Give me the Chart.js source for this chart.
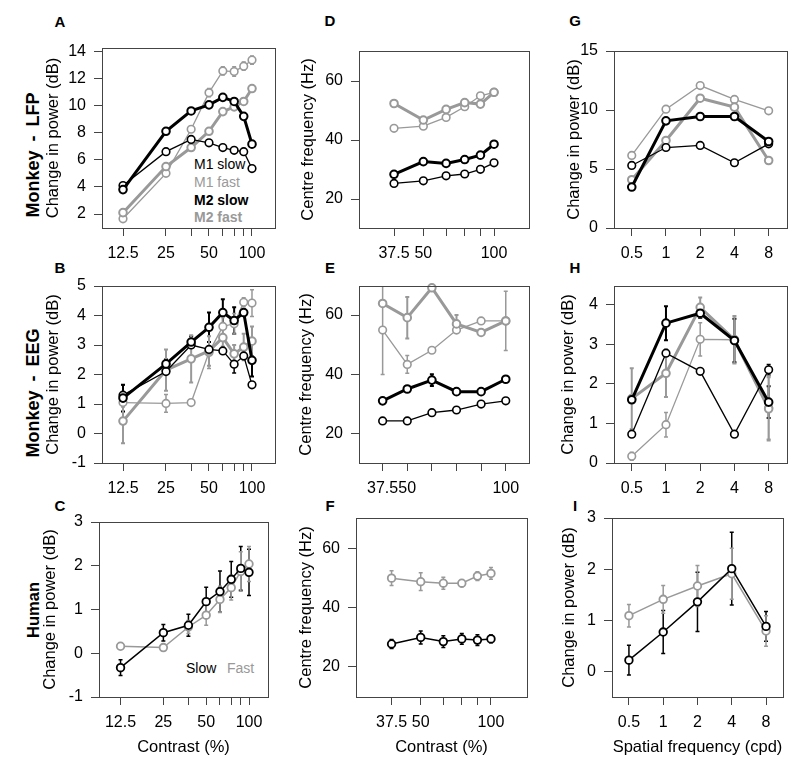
<!DOCTYPE html>
<html>
<head>
<meta charset="utf-8">
<script src="https://cdn.jsdelivr.net/npm/chart.js@4.4.1/dist/chart.umd.min.js"></script>
<style>
  body { margin: 0; background: #fff; width: 800px; height: 769px; position: relative; overflow: hidden;
         font-family: "Liberation Sans", Arial, sans-serif; color: #000; }
  canvas { position: absolute; }
  .letter { position: absolute; font-weight: bold; font-size: 15px; transform: translate(-50%, -50%); }
  .row { position: absolute; font-weight: bold; font-size: 18px; white-space: nowrap; word-spacing: 4px;
         transform: translate(-50%, -50%) rotate(-90deg); }
  .leg { position: absolute; font-size: 14px; line-height: 1; white-space: nowrap; transform: translateY(-50%); }
</style>
</head>
<body>
<div class="letter" style="left:60px;top:21px">A</div>
<div class="letter" style="left:60px;top:267px">B</div>
<div class="letter" style="left:60px;top:505px">C</div>
<div class="letter" style="left:330px;top:20px">D</div>
<div class="letter" style="left:330px;top:267px">E</div>
<div class="letter" style="left:330px;top:505px">F</div>
<div class="letter" style="left:575px;top:20px">G</div>
<div class="letter" style="left:575px;top:267px">H</div>
<div class="letter" style="left:575px;top:505px">I</div>

<div class="row" style="left:33px;top:155px">Monkey - LFP</div>
<div class="row" style="left:33px;top:393px">Monkey - EEG</div>
<div class="row" style="left:33px;top:610px;font-size:16.5px">Human</div>

<div class="leg" style="left:194px;top:164px;color:#000">M1 slow</div>
<div class="leg" style="left:194px;top:182px;color:#999">M1 fast</div>
<div class="leg" style="left:194px;top:200px;color:#000;font-weight:bold">M2 slow</div>
<div class="leg" style="left:194px;top:217px;color:#999;font-weight:bold">M2 fast</div>
<div class="leg" style="left:186px;top:668px;color:#000">Slow</div>
<div class="leg" style="left:227px;top:668px;color:#999">Fast</div>

<script>
// Valores del eje x
const contrast = [12.5, 25, 37.5, 50, 62.5, 75, 87.5, 100];
const contrastHigh = [37.5, 50, 62.5, 75, 87.5, 100];
const spatialFreq = [0.5, 1, 2, 4, 8];

// Etiquetas de ticks
const contrastLabels = ['12.5', '25', '', '50', '', '', '', '100'];
const contrastHighLabels = ['37.5', '50', '', '', '', '100'];
const sfLabels = ['0.5', '1', '2', '4', '8'];

const ticksA = [2, 4, 6, 8, 10, 12, 14];
const ticksB = [-1, 0, 1, 2, 3, 4, 5];
const ticksC = [-1, 0, 1, 2, 3];
const ticksFreq = [20, 40, 60];
const ticksG = [0, 5, 10, 15];
const ticksH = [0, 1, 2, 3, 4];
const ticksI = [0, 1, 2, 3];

// A - Monkey LFP, potencia vs contraste
const aM1Slow = [4.1, 6.6, 7.5, 7.25, 6.9, 6.7, 6.6, 5.35];
const aM1Fast = [1.65, 5.0, 8.25, 10.95, 12.55, 12.5, 12.9, 13.35];
const aM2Slow = [3.8, 8.1, 9.6, 10.05, 10.6, 10.3, 9.2, 7.15];
const aM2Fast = [2.1, 5.5, 6.9, 8.1, 9.55, 9.9, 10.3, 11.25];
const aM1FastErr = [null, null, null, 0.3, 0.3, 0.35, 0.3, 0.3];
const aM2FastErr = [null, null, null, null, null, null, 0.2, 0.2];

// B - Monkey EEG, potencia vs contraste
const bM1Slow = [1.3, 2.1, 3.0, 2.85, 2.8, 2.35, 2.63, 1.65];
const bM1Fast = [1.05, 1.02, 1.05, 2.75, 3.63, 3.72, 4.45, 4.42];
const bM2Slow = [1.2, 2.36, 3.1, 3.6, 4.1, 3.83, 4.1, 2.48];
const bM2Fast = [0.42, 2.15, 2.53, 2.8, 3.25, 2.7, 2.93, 3.13];
const bM1SlowErr = [0.35, null, null, null, null, 0.3, null, null];
const bM1FastErr = [0.15, 0.3, null, 0.55, 0.3, 0.35, 0.15, 0.45];
const bM2SlowErr = [0.45, 0.15, 0.2, 0.5, 0.45, 0.45, null, 0.55];
const bM2FastErr = [0.75, 0.7, 0.8, 0.5, 0.3, 0.3, 0.45, 0.5];

// C - Human, potencia vs contraste
const cSlow = [-0.33, 0.47, 0.64, 1.18, 1.41, 1.69, 1.94, 1.85];
const cFast = [0.16, 0.13, 0.6, 0.87, 1.23, 1.5, 1.87, 2.04];
const cSlowErr = [0.18, 0.19, 0.25, 0.33, 0.47, 0.41, 0.5, 0.53];
const cFastErr = [null, null, 0.15, 0.23, 0.3, 0.28, 0.45, 0.4];

// D - Monkey LFP, frecuencia central
const dM1Slow = [25.3, 26.2, 27.9, 28.5, 30.1, 32.3];
const dM1Fast = [44, 44.7, 47.7, 51.3, 55, 56.2];
const dM2Slow = [28.4, 32.7, 32.1, 33.4, 34.9, 38.6];
const dM2Fast = [52.4, 46.8, 50.4, 52.7, 52.2, 56.2];

// E - Monkey EEG, frecuencia central
const eM1Slow = [24.2, 24.2, 27, 27.9, 29.9, 31];
const eM1Fast = [54.9, 43.3, 48.1, 54.9, 58, 58];
const eM2Slow = [31, 35, 38, 34.1, 34.1, 38.3];
const eM2Fast = [63.9, 59.1, 69.2, 57, 54.1, 58];
const eM1FastErr = [15, 3, null, null, null, 10];
const eM2SlowErr = [null, null, 2, null, null, null];
const eM2FastErr = [null, 7, null, 3, null, null];

// F - Human, frecuencia central
const fSlow = [27.7, 29.9, 28.5, 29.4, 29.0, 29.4];
const fFast = [49.9, 48.7, 48.2, 48.2, 50.6, 51.5];
const fSlowErr = [1.5, 2.2, 2, 1.8, 1.8, 1.3];
const fFastErr = [2.5, 3, 2, 1.2, 1.5, 2];

// G - Monkey LFP, frecuencia espacial
const gM1Slow = [5.3, 6.82, 7.0, 5.53, 7.13];
const gM1Fast = [6.15, 10.07, 12.07, 10.9, 9.93];
const gM2Slow = [3.47, 9.08, 9.45, 9.45, 7.33];
const gM2Fast = [4.09, 7.42, 11.0, 10.24, 5.72];

// H - Monkey EEG, frecuencia espacial
const hM1Slow = [0.73, 2.78, 2.32, 0.73, 2.36];
const hM1Fast = [0.17, 0.97, 3.13, 3.12, 1.4];
const hM2Slow = [1.6, 3.54, 3.79, 3.1, 1.54];
const hM2Fast = [1.63, 2.27, 3.94, 3.12, 1.37];
const hM1SlowErr = [null, null, null, null, 0.13];
const hM1FastErr = [0.1, 0.31, 0.42, null, 0.8];
const hM2SlowErr = [null, 0.43, 0.12, 0.55, 0.4];
const hM2FastErr = [0.77, 0.6, 0.25, 0.6, 0.8];

// I - Human, frecuencia espacial
const iSlow = [0.22, 0.77, 1.36, 2.01, 0.88];
const iFast = [1.09, 1.41, 1.67, 1.91, 0.79];
const iSlowErr = [0.29, 0.42, 0.58, 0.71, 0.29];
const iFastErr = [0.22, 0.27, 0.4, 0.5, 0.3];

// Estilos
const AXIS = '#444';
const GRAY = '#999';
const FONT = { family: '"Liberation Sans", Arial, sans-serif', size: 16 };
const TITLE_FONT = { family: '"Liberation Sans", Arial, sans-serif', size: 16.5 };
const thinBlack = { color: '#000', w: 1.3, pw: 1.6 };
const thickBlack = { color: '#000', w: 3, pw: 2 };
const thinGray = { color: GRAY, w: 1.3, pw: 1.6 };
const thickGray = { color: GRAY, w: 3, pw: 2 };
const humanBlack = { color: '#000', w: 1.5, pw: 1.8 };
const humanGray = { color: GRAY, w: 1.5, pw: 1.8 };

// Marco alrededor del área del gráfico
const frame = {
    id: 'frame',
    afterDraw(chart) {
        const { ctx, chartArea: a } = chart;
        ctx.save();
        ctx.strokeStyle = AXIS;
        ctx.lineWidth = 1;
        ctx.strokeRect(Math.round(a.left) + 0.5, Math.round(a.top) + 0.5,
                       Math.round(a.width), Math.round(a.height));
        ctx.restore();
    }
};

// Barras de error verticales
const errorBars = {
    id: 'errorBars',
    beforeDatasetsDraw(chart) {
        const { ctx, chartArea: a, scales: { x, y } } = chart;
        ctx.save();
        ctx.beginPath();
        ctx.rect(a.left, a.top, a.width, a.height);
        ctx.clip();
        chart.data.datasets.forEach(ds => {
            if (!ds.err) return;
            ctx.strokeStyle = ds.borderColor;
            ctx.lineWidth = ds.borderWidth > 2 ? 2 : 1.5;
            ds.data.forEach((p, i) => {
                const e = ds.err[i];
                if (e == null) return;
                const px = x.getPixelForValue(p.x);
                const top = y.getPixelForValue(p.y + e);
                const bot = y.getPixelForValue(p.y - e);
                ctx.beginPath();
                ctx.moveTo(px, top); ctx.lineTo(px, bot);
                ctx.moveTo(px - 2, top); ctx.lineTo(px + 2, top);
                ctx.moveTo(px - 2, bot); ctx.lineTo(px + 2, bot);
                ctx.stroke();
            });
        });
        ctx.restore();
    }
};

function makePanel(cfg) {
    const [L, T, R, B] = cfg.box;
    const yW = Math.round(L - cfg.titleX + 9.9);
    const xH = cfg.xTitle ? Math.round(cfg.xTitleY - B + 9.9) : 40;
    const padT = 20, padR = 10;
    const canvas = document.createElement('canvas');
    canvas.width = yW + (R - L) + padR;
    canvas.height = padT + (B - T) + xH;
    canvas.style.left = (L - yW) + 'px';
    canvas.style.top = (T - padT) + 'px';
    document.body.appendChild(canvas);

    new Chart(canvas.getContext('2d'), {
        type: 'line',
        data: {
            datasets: cfg.series.map(s => ({
                data: cfg.xs.map((x, i) => ({ x: x, y: s.ys[i] })),
                err: s.err,
                borderColor: s.st.color,
                borderWidth: s.st.w,
                pointRadius: 3.8,
                pointHoverRadius: 3.8,
                pointBorderWidth: s.st.pw,
                pointBackgroundColor: '#fff',
                pointBorderColor: s.st.color,
                tension: 0,
                clip: false
            }))
        },
        options: {
            responsive: false,
            animation: false,
            events: [],
            layout: { padding: { top: padT, right: padR, left: 0, bottom: 0 } },
            plugins: { legend: { display: false }, tooltip: { enabled: false } },
            scales: {
                x: {
                    type: cfg.xType,
                    min: cfg.xMin,
                    max: cfg.xMax,
                    bounds: 'data',
                    afterBuildTicks: ax => { ax.ticks = cfg.xs.map(v => ({ value: v })); },
                    afterFit: ax => { ax.height = xH; },
                    ticks: {
                        autoSkip: false, maxRotation: 0, minRotation: 0, padding: 8,
                        color: '#000', font: FONT,
                        callback: (v, i) => cfg.xLabels[i]
                    },
                    grid: { display: true, drawOnChartArea: false, drawTicks: true, tickLength: 8, color: AXIS, lineWidth: 1 },
                    border: { display: false },
                    title: cfg.xTitle
                        ? { display: true, text: cfg.xTitle, color: '#000', font: TITLE_FONT, padding: 0 }
                        : { display: false }
                },
                y: {
                    type: 'linear',
                    min: cfg.yMin,
                    max: cfg.yMax,
                    bounds: 'data',
                    afterBuildTicks: ax => { ax.ticks = cfg.yTicks.map(v => ({ value: v })); },
                    afterFit: ax => { ax.width = yW; },
                    ticks: { autoSkip: false, padding: 8, color: '#000', font: FONT, callback: v => String(v) },
                    grid: { display: true, drawOnChartArea: false, drawTicks: true, tickLength: 8, color: AXIS, lineWidth: 1 },
                    border: { display: false },
                    title: { display: true, text: cfg.yTitle, color: '#000', font: TITLE_FONT, padding: 0 }
                }
            }
        },
        plugins: [frame, errorBars]
    });
}

const POWER = 'Change in power (dB)';
const CFREQ = 'Centre frequency (Hz)';

makePanel({ box: [102, 48, 275, 228], titleX: 54, xType: 'logarithmic', xMin: 8.91, xMax: 144.9,
    xs: contrast, xLabels: contrastLabels, yMin: 0.97, yMax: 14.24, yTicks: ticksA, yTitle: POWER,
    series: [
        { ys: aM2Slow, st: thickBlack },
        { ys: aM1Slow, st: thinBlack },
        { ys: aM2Fast, st: thickGray, err: aM2FastErr },
        { ys: aM1Fast, st: thinGray, err: aM1FastErr }
    ] });

makePanel({ box: [102, 286, 275, 463], titleX: 54, xType: 'logarithmic', xMin: 8.91, xMax: 144.9,
    xs: contrast, xLabels: contrastLabels, yMin: -1, yMax: 5, yTicks: ticksB, yTitle: POWER,
    series: [
        { ys: bM2Slow, st: thickBlack, err: bM2SlowErr },
        { ys: bM1Slow, st: thinBlack, err: bM1SlowErr },
        { ys: bM2Fast, st: thickGray, err: bM2FastErr },
        { ys: bM1Fast, st: thinGray, err: bM1FastErr }
    ] });

makePanel({ box: [99, 522, 268, 697], titleX: 51, xType: 'logarithmic', xMin: 8.82, xMax: 136,
    xs: contrast, xLabels: contrastLabels, yMin: -1, yMax: 3, yTicks: ticksC, yTitle: POWER,
    xTitle: 'Contrast (%)', xTitleY: 747,
    series: [
        { ys: cSlow, st: humanBlack, err: cSlowErr },
        { ys: cFast, st: humanGray, err: cFastErr }
    ] });

makePanel({ box: [359, 51, 529, 228], titleX: 309, xType: 'logarithmic', xMin: 26.6, xMax: 140.9,
    xs: contrastHigh, xLabels: contrastHighLabels, yMin: 10.2, yMax: 70.2, yTicks: ticksFreq, yTitle: CFREQ,
    series: [
        { ys: dM2Slow, st: thickBlack },
        { ys: dM1Slow, st: thinBlack },
        { ys: dM2Fast, st: thickGray },
        { ys: dM1Fast, st: thinGray }
    ] });

makePanel({ box: [359, 286, 529, 463], titleX: 306.5, xType: 'linear', xMin: 25.5, xMax: 111.8,
    xs: contrastHigh, xLabels: contrastHighLabels, yMin: 10, yMax: 69.8, yTicks: ticksFreq, yTitle: CFREQ,
    series: [
        { ys: eM2Slow, st: thickBlack, err: eM2SlowErr },
        { ys: eM1Slow, st: thinBlack },
        { ys: eM2Fast, st: thickGray, err: eM2FastErr },
        { ys: eM1Fast, st: thinGray, err: eM1FastErr }
    ] });

makePanel({ box: [356, 518, 527, 697], titleX: 306.5, xType: 'logarithmic', xMin: 26.4, xMax: 142.7,
    xs: contrastHigh, xLabels: contrastHighLabels, yMin: 9.8, yMax: 70.2, yTicks: ticksFreq, yTitle: CFREQ,
    xTitle: 'Contrast (%)', xTitleY: 747,
    series: [
        { ys: fSlow, st: humanBlack, err: fSlowErr },
        { ys: fFast, st: humanGray, err: fFastErr }
    ] });

makePanel({ box: [614, 51, 787, 228], titleX: 574.5, xType: 'logarithmic', xMin: 0.349, xMax: 11.6,
    xs: spatialFreq, xLabels: sfLabels, yMin: 0, yMax: 15, yTicks: ticksG, yTitle: POWER,
    series: [
        { ys: gM2Slow, st: thickBlack },
        { ys: gM1Slow, st: thinBlack },
        { ys: gM2Fast, st: thickGray },
        { ys: gM1Fast, st: thinGray }
    ] });

makePanel({ box: [614, 286, 787, 463], titleX: 568.5, xType: 'logarithmic', xMin: 0.349, xMax: 11.6,
    xs: spatialFreq, xLabels: sfLabels, yMin: 0, yMax: 4.48, yTicks: ticksH, yTitle: POWER,
    series: [
        { ys: hM2Slow, st: thickBlack, err: hM2SlowErr },
        { ys: hM1Slow, st: thinBlack, err: hM1SlowErr },
        { ys: hM2Fast, st: thickGray, err: hM2FastErr },
        { ys: hM1Fast, st: thinGray, err: hM1FastErr }
    ] });

makePanel({ box: [612, 518, 783, 697], titleX: 569.5, xType: 'logarithmic', xMin: 0.355, xMax: 11.28,
    xs: spatialFreq, xLabels: sfLabels, yMin: -0.5, yMax: 3, yTicks: ticksI, yTitle: POWER,
    xTitle: 'Spatial frequency (cpd)', xTitleY: 747,
    series: [
        { ys: iSlow, st: humanBlack, err: iSlowErr },
        { ys: iFast, st: humanGray, err: iFastErr }
    ] });
</script>
</body>
</html>
